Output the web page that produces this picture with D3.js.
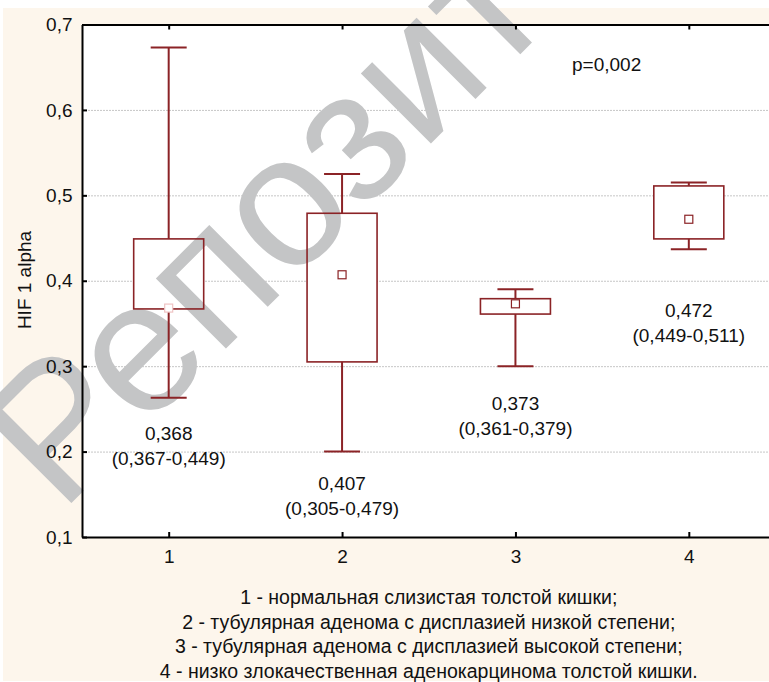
<!DOCTYPE html>
<html><head><meta charset="utf-8">
<script src="https://cdn.jsdelivr.net/npm/d3@7"></script>
<style>html,body{margin:0;padding:0;background:#fff;}svg{display:block;}</style>
</head><body>
<svg id="c" width="769" height="682"></svg>
<script>
// ---- data ----
const categories = [1, 2, 3, 4];
const medians = [0.368, 0.407, 0.373, 0.472];
const q1 = [0.367, 0.305, 0.361, 0.449];
const q3 = [0.449, 0.479, 0.379, 0.511];
const mins = [0.263, 0.200, 0.300, 0.437];
const maxs = [0.673, 0.525, 0.390, 0.515];
const valueLabels = ["0,368", "0,407", "0,373", "0,472"];
const rangeLabels = ["(0,367-0,449)", "(0,305-0,479)", "(0,361-0,379)", "(0,449-0,511)"];
const labelAt = [0.2215, 0.1626, 0.257, 0.3656]; // label anchor in data units
const yTicks = [0.1, 0.2, 0.3, 0.4, 0.5, 0.6, 0.7];
const yTickLabels = ["0,1", "0,2", "0,3", "0,4", "0,5", "0,6", "0,7"];
const legendLines = [
  "1 - нормальная слизистая толстой кишки;",
  "2 - тубулярная аденома с дисплазией низкой степени;",
  "3 - тубулярная аденома с дисплазией высокой степени;",
  "4 - низко злокачественная аденокарцинома толстой кишки."
];
const yTitle = "HIF 1 alpha";
const pText = "p=0,002";
const watermark = "Репозиторий";

// ---- layout ----
const W = 769, H = 682;
const pL = 82, pR = 775.5, pT = 24.5, pB = 537;
const font = "'Liberation Sans', Arial, sans-serif";
const red = "#8b2326";

const svg = d3.select("#c");
const x = d3.scaleLinear().domain([0.5, 4.5]).range([pL, pR]);
const y = d3.scaleLinear().domain([0.1, 0.7]).range([pB, pT]);

svg.append("rect").attr("x", 0).attr("y", 0).attr("width", W).attr("height", H).attr("fill", "#fff");
svg.append("rect").attr("x", 3).attr("y", 8).attr("width", W - 3).attr("height", H - 9).attr("fill", "#fdf6ec");
svg.append("rect").attr("x", pL).attr("y", pT).attr("width", pR - pL).attr("height", pB - pT).attr("fill", "#fff");

// gridlines
svg.append("g").selectAll("line").data(yTicks.filter(t => t > 0.1 && t < 0.7)).join("line")
  .attr("x1", pL).attr("x2", pR).attr("y1", d => y(d) + 0.5).attr("y2", d => y(d) + 0.5)
  .attr("stroke", "#c6c6c6").attr("stroke-width", 1).attr("stroke-dasharray", "2,1");

const boxW = 70, capW = 36;
const g = svg.append("g");
// box fills
g.selectAll("rect.fill").data(categories).join("rect").attr("class", "fill")
  .attr("x", (d) => x(d) - boxW / 2).attr("width", boxW)
  .attr("y", (d, i) => y(q3[i])).attr("height", (d, i) => y(q1[i]) - y(q3[i]))
  .attr("fill", "#fff");

// watermark: size and place so that glyphs "о" (4th) and "и" (6th) land where the reference has them
const wm = svg.append("text").text(watermark)
  .attr("x", 0).attr("y", 0)
  .attr("font-family", font).attr("font-size", 100).attr("fill", "#c4c5c6");
(function () {
  const node = wm.node();
  let a = 2.05, b = 3.05; // centres in em (fallback)
  try {
    const e1 = node.getExtentOfChar(3), e2 = node.getExtentOfChar(5);
    a = (e1.x + e1.width / 2) / 100; b = (e2.x + e2.width / 2) / 100;
  } catch (e) {}
  const alongTarget = Math.hypot(424 - 290, 81 - 215);
  const fs = alongTarget / (b - a);
  wm.attr("font-size", fs);
  const cx = (a + b) / 2 * fs, cy = -0.262 * fs;
  const c = Math.SQRT1_2;
  const rx = c * cx + c * cy, ry = -c * cx + c * cy;
  const tx = 357 - rx, ty = 148 - ry;
  wm.attr("transform", `translate(${tx},${ty}) rotate(-45)`);
})();

// whiskers
const m = svg.append("g").attr("stroke", red);
m.selectAll("line.up").data(categories).join("line").attr("class", "up")
  .attr("x1", d => x(d)).attr("x2", d => x(d))
  .attr("y1", (d, i) => y(q3[i])).attr("y2", (d, i) => y(maxs[i])).attr("stroke-width", 2);
m.selectAll("line.dn").data(categories).join("line").attr("class", "dn")
  .attr("x1", d => x(d)).attr("x2", d => x(d))
  .attr("y1", (d, i) => y(q1[i])).attr("y2", (d, i) => y(mins[i])).attr("stroke-width", 2);
m.selectAll("line.capu").data(categories).join("line").attr("class", "capu")
  .attr("x1", d => x(d) - capW / 2).attr("x2", d => x(d) + capW / 2)
  .attr("y1", (d, i) => y(maxs[i])).attr("y2", (d, i) => y(maxs[i])).attr("stroke-width", 2);
m.selectAll("line.capd").data(categories).join("line").attr("class", "capd")
  .attr("x1", d => x(d) - capW / 2).attr("x2", d => x(d) + capW / 2)
  .attr("y1", (d, i) => y(mins[i])).attr("y2", (d, i) => y(mins[i])).attr("stroke-width", 2);
m.selectAll("rect.box").data(categories).join("rect").attr("class", "box")
  .attr("x", d => x(d) - boxW / 2).attr("width", boxW)
  .attr("y", (d, i) => y(q3[i])).attr("height", (d, i) => y(q1[i]) - y(q3[i]))
  .attr("fill", "none").attr("stroke-width", 1.6);
// median markers
svg.append("g").selectAll("rect").data(categories).join("rect")
  .attr("x", d => x(d) - 4).attr("width", 8)
  .attr("y", (d, i) => y(medians[i]) - 4).attr("height", 8)
  .attr("fill", "#fff")
  .attr("stroke", (d, i) => i === 0 ? "#efc4c4" : red).attr("stroke-width", 1.2);

// axes
const axL = d3.axisLeft(y).tickValues(yTicks).tickFormat((d, i) => yTickLabels[i])
  .tickSizeInner(-5).tickSizeOuter(0).tickPadding(9.5);
const gL = svg.append("g").attr("transform", `translate(${pL},0)`).call(axL);
const axB = d3.axisBottom(x).tickValues(categories).tickFormat(d => String(d))
  .tickSizeInner(-5).tickSizeOuter(0).tickPadding(13);
const gB = svg.append("g").attr("transform", `translate(0,${pB})`).call(axB);
const axT = d3.axisTop(x).tickValues(categories).tickFormat("")
  .tickSizeInner(-5).tickSizeOuter(0);
const gT = svg.append("g").attr("transform", `translate(0,${pT})`).call(axT);
[gL, gB, gT].forEach(a => {
  a.select(".domain").attr("stroke", "#000").attr("stroke-width", 2);
  a.selectAll(".tick line").attr("stroke", "#000").attr("stroke-width", 2);
  a.selectAll("text").attr("font-family", font).attr("font-size", 19).attr("fill", "#111");
});

// y title
svg.append("text").text(yTitle)
  .attr("transform", "translate(31,280) rotate(-90)")
  .attr("text-anchor", "middle").attr("font-family", font).attr("font-size", 19).attr("fill", "#111");

// p value
svg.append("text").text(pText).attr("x", 572).attr("y", 71)
  .attr("font-family", font).attr("font-size", 19).attr("fill", "#111");

// box annotations
const ann = svg.append("g").attr("font-family", font).attr("font-size", 19).attr("fill", "#111").attr("text-anchor", "middle");
ann.selectAll("text.v").data(categories).join("text").attr("class", "v")
  .attr("x", d => x(d)).attr("y", (d, i) => y(labelAt[i])).attr("dy", "0.35em").text((d, i) => valueLabels[i]);
ann.selectAll("text.r").data(categories).join("text").attr("class", "r")
  .attr("x", d => x(d)).attr("y", (d, i) => y(labelAt[i]) + 25).attr("dy", "0.35em").text((d, i) => rangeLabels[i]);

// legend
svg.append("g").attr("font-family", font).attr("font-size", 19.5).attr("fill", "#111").attr("text-anchor", "middle")
  .selectAll("text").data(legendLines).join("text")
  .attr("x", (pL + pR) / 2).attr("y", (d, i) => 597 + i * 24.7).attr("dy", "0.35em").text(d => d);
</script>
</body></html>
